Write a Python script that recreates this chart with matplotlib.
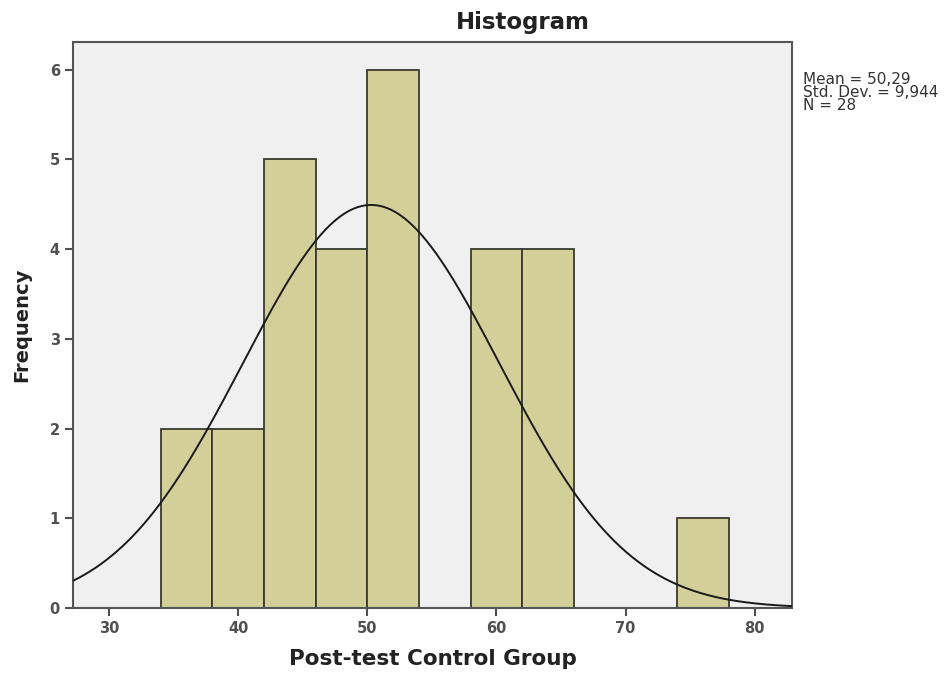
import numpy as np
import matplotlib.pyplot as plt

plt.rcParams['font.family'] = ['DejaVu Sans']

# histogram bins (width 4) and counts
bin_edges = [34, 38, 42, 46, 50, 54, 58, 62, 66, 70, 74, 78]
counts = [2, 2, 5, 4, 6, 0, 4, 4, 0, 0, 1]
mean = 50.29
std = 9.944
n = 28

fig = plt.figure(figsize=(9.49, 6.73), dpi=100)
ax = fig.add_axes([0.077, 0.0966, 0.7576, 0.841])
ax.set_facecolor('#f0f0f0')

lefts = bin_edges[:-1]
widths = np.diff(bin_edges)
for left, w, c in zip(lefts, widths, counts):
    if c > 0:
        ax.bar(left, c, width=w, align='edge', color='#d3cf98',
               edgecolor='#3a3a30', linewidth=1.3, zorder=2)

# normal curve scaled to counts
xs = np.linspace(27.2, 82.9, 400)
bw = 4
ys = n * bw / (std * np.sqrt(2 * np.pi)) * np.exp(-0.5 * ((xs - mean) / std) ** 2)
ax.plot(xs, ys, color='#1a1a1a', linewidth=1.4, zorder=3)

ax.set_xlim(27.2, 82.9)
ax.set_ylim(0, 6.31)
ax.set_xticks([30, 40, 50, 60, 70, 80])
ax.set_yticks(range(0, 7))
ax.tick_params(colors='#505050', labelsize=10.5, length=6, width=1.5)
for lab in ax.get_xticklabels() + ax.get_yticklabels():
    lab.set_fontweight('bold')
for sp in ax.spines.values():
    sp.set_color('#555555')
    sp.set_linewidth(1.5)

fig.text(0.551, 0.967, 'Histogram', fontsize=16.5, fontweight='bold',
         ha='center', va='center', color='#222222')
ax.set_xlabel('Post-test Control Group', fontsize=15.5, fontweight='bold',
              labelpad=9, color='#222222')
ax.set_ylabel('Frequency', fontsize=14, fontweight='bold', labelpad=13,
              color='#222222')

fig.text(0.846, 0.893, 'Mean = 50,29\nStd. Dev. = 9,944\nN = 28',
         fontsize=11, color='#333333', va='top', ha='left', linespacing=0.85)

fig.savefig('out.png', dpi=100)
